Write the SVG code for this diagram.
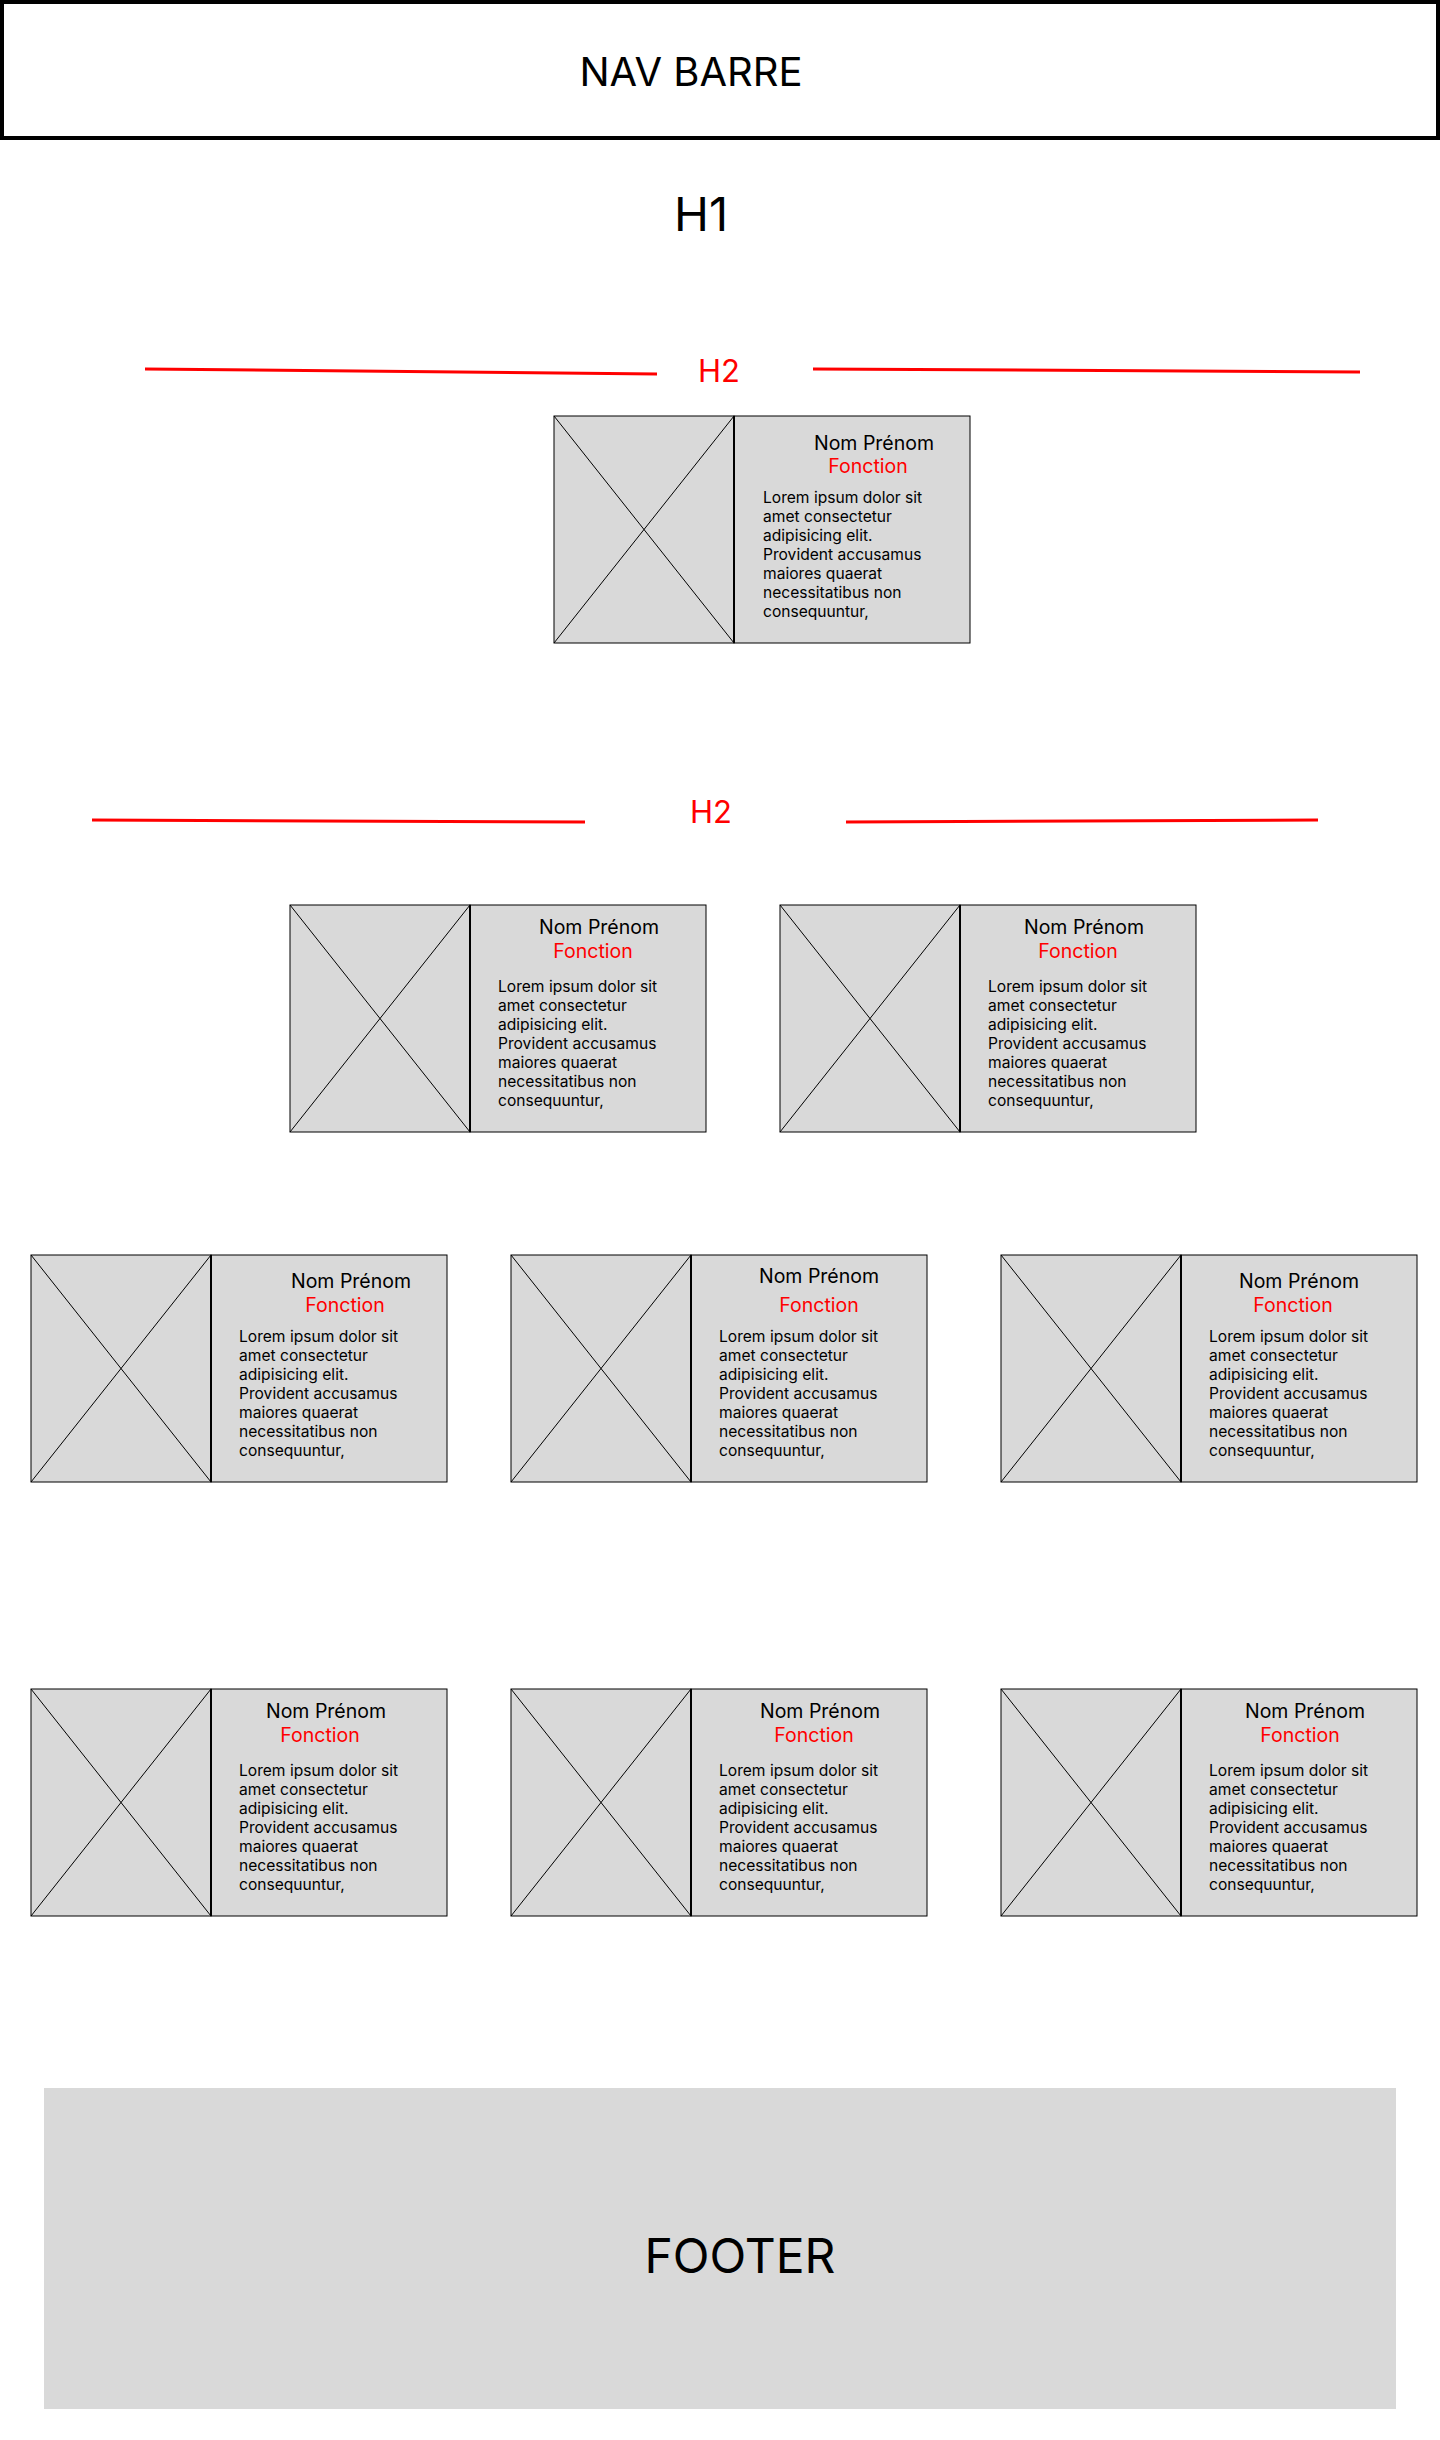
<svg xmlns="http://www.w3.org/2000/svg" width="1440" height="2440" viewBox="0 0 1440 2440">
<defs>
<style>
text { font-family: Inter, "Noto Sans", "Liberation Sans", sans-serif; fill: #000; }
.img { fill: #D9D9D9; stroke: #000; stroke-width: 1; }
.txt { fill: #D9D9D9; stroke: #000; stroke-width: 1; }
.div { stroke: #000; stroke-width: 2; }
.x { stroke: #000; stroke-width: 1; }
.nom { font-size: 19.5px; text-anchor: middle; }
.fn { font-size: 19.5px; text-anchor: middle; fill: #FF0000; }
.lorem { font-size: 15.6px; fill: #000; }
.red { stroke: #FF0000; stroke-width: 3; fill: none; }
.h2 { font-size: 31px; text-anchor: middle; fill: #FF0000; }
</style>
<g id="cardbox">
<rect class="img" x="0" y="0" width="180" height="227"/>
<rect class="txt" x="180" y="0" width="236" height="227"/>
<line class="x" x1="0" y1="0" x2="180" y2="227"/>
<line class="x" x1="180" y1="0" x2="0" y2="227"/>
<line class="div" x1="180" y1="0" x2="180" y2="227"/>
</g>
</defs>

<g id="nav">
<rect x="2" y="2" width="1436" height="136" fill="#FFFFFF" stroke="#000" stroke-width="4"/>
<text x="691" y="86" font-size="40" text-anchor="middle">NAV BARRE</text>
</g>

<g id="h1">
<text x="701" y="231" font-size="47" text-anchor="middle">H1</text>
</g>

<g id="connectors">
<line class="red" x1="145" y1="369" x2="657" y2="374"/>
<line class="red" x1="813" y1="369" x2="1360" y2="372"/>
<line class="red" x1="92" y1="820" x2="585" y2="822"/>
<line class="red" x1="846" y1="822" x2="1318" y2="820"/>
</g>

<g id="h2-1"><text class="h2" x="719" y="382">H2</text></g>
<g id="h2-2"><text class="h2" x="711" y="823" font-size="30">H2</text></g>

<g id="card-a" transform="translate(554,416)">
<use href="#cardbox"/>
<text class="nom" x="320" y="34">Nom Prénom</text>
<text class="fn" x="314" y="57">Fonction</text>
<text class="lorem" x="209" y="87"><tspan x="209" dy="0">Lorem ipsum dolor sit</tspan><tspan x="209" dy="19">amet consectetur</tspan><tspan x="209" dy="19">adipisicing elit.</tspan><tspan x="209" dy="19">Provident accusamus</tspan><tspan x="209" dy="19">maiores quaerat</tspan><tspan x="209" dy="19">necessitatibus non</tspan><tspan x="209" dy="19">consequuntur,</tspan></text>
</g>

<g id="card-b1" transform="translate(290,905)">
<use href="#cardbox"/>
<text class="nom" x="309" y="29">Nom Prénom</text>
<text class="fn" x="303" y="53">Fonction</text>
<text class="lorem" x="208" y="87"><tspan x="208" dy="0">Lorem ipsum dolor sit</tspan><tspan x="208" dy="19">amet consectetur</tspan><tspan x="208" dy="19">adipisicing elit.</tspan><tspan x="208" dy="19">Provident accusamus</tspan><tspan x="208" dy="19">maiores quaerat</tspan><tspan x="208" dy="19">necessitatibus non</tspan><tspan x="208" dy="19">consequuntur,</tspan></text>
</g>

<g id="card-b2" transform="translate(780,905)">
<use href="#cardbox"/>
<text class="nom" x="304" y="29">Nom Prénom</text>
<text class="fn" x="298" y="53">Fonction</text>
<text class="lorem" x="208" y="87"><tspan x="208" dy="0">Lorem ipsum dolor sit</tspan><tspan x="208" dy="19">amet consectetur</tspan><tspan x="208" dy="19">adipisicing elit.</tspan><tspan x="208" dy="19">Provident accusamus</tspan><tspan x="208" dy="19">maiores quaerat</tspan><tspan x="208" dy="19">necessitatibus non</tspan><tspan x="208" dy="19">consequuntur,</tspan></text>
</g>

<g id="card-c1" transform="translate(31,1255)">
<use href="#cardbox"/>
<text class="nom" x="320" y="33">Nom Prénom</text>
<text class="fn" x="314" y="57">Fonction</text>
<text class="lorem" x="208" y="87"><tspan x="208" dy="0">Lorem ipsum dolor sit</tspan><tspan x="208" dy="19">amet consectetur</tspan><tspan x="208" dy="19">adipisicing elit.</tspan><tspan x="208" dy="19">Provident accusamus</tspan><tspan x="208" dy="19">maiores quaerat</tspan><tspan x="208" dy="19">necessitatibus non</tspan><tspan x="208" dy="19">consequuntur,</tspan></text>
</g>

<g id="card-c2" transform="translate(511,1255)">
<use href="#cardbox"/>
<text class="nom" x="308" y="28">Nom Prénom</text>
<text class="fn" x="308" y="57">Fonction</text>
<text class="lorem" x="208" y="87"><tspan x="208" dy="0">Lorem ipsum dolor sit</tspan><tspan x="208" dy="19">amet consectetur</tspan><tspan x="208" dy="19">adipisicing elit.</tspan><tspan x="208" dy="19">Provident accusamus</tspan><tspan x="208" dy="19">maiores quaerat</tspan><tspan x="208" dy="19">necessitatibus non</tspan><tspan x="208" dy="19">consequuntur,</tspan></text>
</g>

<g id="card-c3" transform="translate(1001,1255)">
<use href="#cardbox"/>
<text class="nom" x="298" y="33">Nom Prénom</text>
<text class="fn" x="292" y="57">Fonction</text>
<text class="lorem" x="208" y="87"><tspan x="208" dy="0">Lorem ipsum dolor sit</tspan><tspan x="208" dy="19">amet consectetur</tspan><tspan x="208" dy="19">adipisicing elit.</tspan><tspan x="208" dy="19">Provident accusamus</tspan><tspan x="208" dy="19">maiores quaerat</tspan><tspan x="208" dy="19">necessitatibus non</tspan><tspan x="208" dy="19">consequuntur,</tspan></text>
</g>

<g id="card-d1" transform="translate(31,1689)">
<use href="#cardbox"/>
<text class="nom" x="295" y="29">Nom Prénom</text>
<text class="fn" x="289" y="53">Fonction</text>
<text class="lorem" x="208" y="87"><tspan x="208" dy="0">Lorem ipsum dolor sit</tspan><tspan x="208" dy="19">amet consectetur</tspan><tspan x="208" dy="19">adipisicing elit.</tspan><tspan x="208" dy="19">Provident accusamus</tspan><tspan x="208" dy="19">maiores quaerat</tspan><tspan x="208" dy="19">necessitatibus non</tspan><tspan x="208" dy="19">consequuntur,</tspan></text>
</g>

<g id="card-d2" transform="translate(511,1689)">
<use href="#cardbox"/>
<text class="nom" x="309" y="29">Nom Prénom</text>
<text class="fn" x="303" y="53">Fonction</text>
<text class="lorem" x="208" y="87"><tspan x="208" dy="0">Lorem ipsum dolor sit</tspan><tspan x="208" dy="19">amet consectetur</tspan><tspan x="208" dy="19">adipisicing elit.</tspan><tspan x="208" dy="19">Provident accusamus</tspan><tspan x="208" dy="19">maiores quaerat</tspan><tspan x="208" dy="19">necessitatibus non</tspan><tspan x="208" dy="19">consequuntur,</tspan></text>
</g>

<g id="card-d3" transform="translate(1001,1689)">
<use href="#cardbox"/>
<text class="nom" x="304" y="29">Nom Prénom</text>
<text class="fn" x="299" y="53">Fonction</text>
<text class="lorem" x="208" y="87"><tspan x="208" dy="0">Lorem ipsum dolor sit</tspan><tspan x="208" dy="19">amet consectetur</tspan><tspan x="208" dy="19">adipisicing elit.</tspan><tspan x="208" dy="19">Provident accusamus</tspan><tspan x="208" dy="19">maiores quaerat</tspan><tspan x="208" dy="19">necessitatibus non</tspan><tspan x="208" dy="19">consequuntur,</tspan></text>
</g>

<g id="footer">
<rect x="44" y="2088" width="1352" height="321" fill="#D9D9D9"/>
<text x="740" y="2273" font-size="48" text-anchor="middle">FOOTER</text>
</g>
</svg>
